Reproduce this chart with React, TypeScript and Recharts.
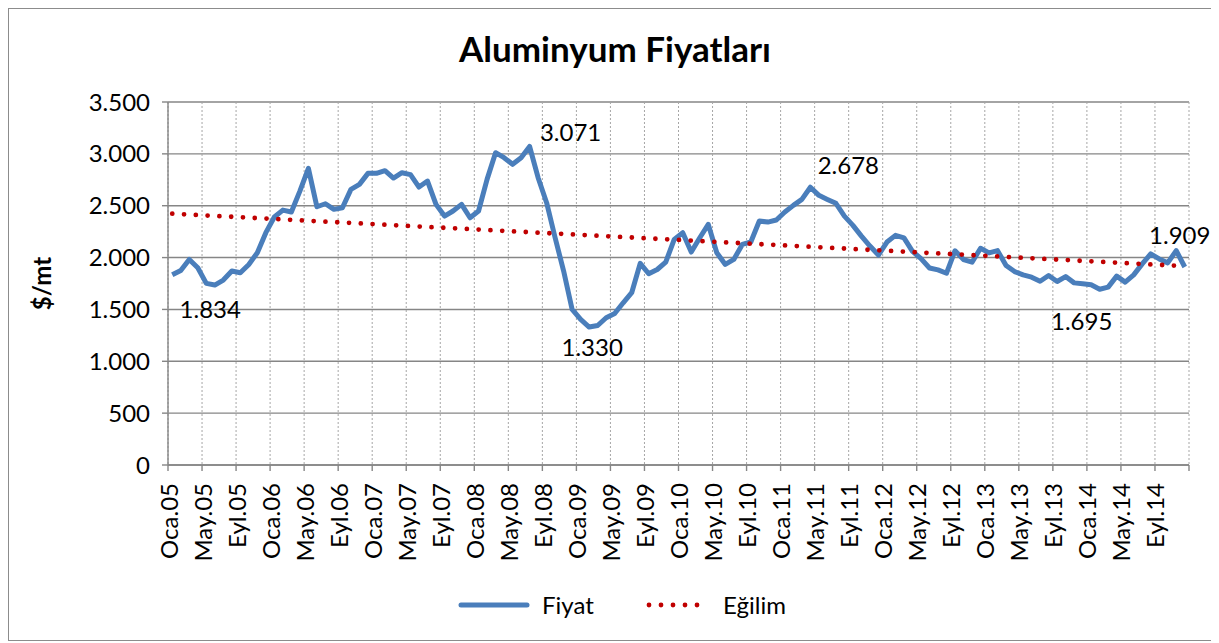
import React from "react";
import { LineChart, Line, XAxis, YAxis, CartesianGrid } from "recharts";

// monthly aluminium price, Oca.05 .. Ara.14 ($/mt)
const prices = [
  1834, 1876, 1982, 1902, 1751, 1735, 1783, 1870, 1854, 1934, 2047, 2240,
  2391, 2458, 2439, 2641, 2860, 2490, 2519, 2465, 2481, 2658, 2706, 2812,
  2812, 2838, 2767, 2818, 2800, 2680, 2738, 2513, 2400, 2449, 2513, 2384,
  2449, 2754, 3011, 2963, 2899, 2963, 3071, 2770, 2529, 2191, 1870, 1500,
  1403, 1330, 1345, 1420, 1461, 1564, 1661, 1944, 1844, 1885, 1957, 2175,
  2240, 2053, 2191, 2320, 2047, 1934, 1982, 2127, 2150, 2352, 2342, 2362,
  2439, 2503, 2561, 2678, 2600, 2561, 2523, 2400, 2310, 2207, 2111, 2024,
  2150, 2214, 2190, 2060, 1990, 1900, 1881, 1849, 2066, 1981, 1955, 2090,
  2045, 2067, 1923, 1865, 1833, 1811, 1772, 1827, 1769, 1817, 1756, 1747,
  1737, 1695, 1715, 1821, 1763, 1833, 1939, 2035, 1987, 1949, 2067, 1909,
];

const tickLabels = [
  "Oca.05", "May.05", "Eyl.05", "Oca.06", "May.06", "Eyl.06",
  "Oca.07", "May.07", "Eyl.07", "Oca.08", "May.08", "Eyl.08",
  "Oca.09", "May.09", "Eyl.09", "Oca.10", "May.10", "Eyl.10",
  "Oca.11", "May.11", "Eyl.11", "Oca.12", "May.12", "Eyl.12",
  "Oca.13", "May.13", "Eyl.13", "Oca.14", "May.14", "Eyl.14",
];

const yTicks = [0, 500, 1000, 1500, 2000, 2500, 3000, 3500];

// linear trend (Eğilim) read at first and last month
const trendStart = 2423;
const trendEnd = 1917;

// months that carry a value label
const labelled = [0, 42, 49, 75, 109, 119];

const FONT = "Lato, 'Open Sans', sans-serif";
const BLUE = "#4A7EBB";
const RED = "#C00000";
const GRID = "#868686";

// label placement relative to its point
const labelOffset: Record<number, [number, number]> = {
  0: [38, 34],
  42: [41, -15],
  49: [3, 19],
  75: [38, -23],
  109: [-18, 31],
  119: [-5, -33],
};

const fmt = (v: number) => String(v).replace(/\B(?=(\d{3})+(?!\d))/g, ".");

const rows = prices.map((p, i) => ({
  x: i + 0.5,
  price: p,
  trend: i === 0 ? trendStart : i === prices.length - 1 ? trendEnd : null,
}));

const xTicks = [...tickLabels.map((_, i) => i * 4), tickLabels.length * 4];

function MonthTick(props: any) {
  const { x, y, payload } = props;
  const label = tickLabels[payload.value / 4] ?? "";
  const ty = y + 12;
  return (
    <text
      x={x}
      y={ty}
      transform={`rotate(-90, ${x}, ${ty})`}
      textAnchor="end"
      dominantBaseline="central"
      fontSize={24}
      fontFamily={FONT}
      fill="#000"
    >
      {label}
    </text>
  );
}

function renderCallout(props: any) {
  const { x, y, index, value } = props;
  if (!labelled.includes(index)) return <g key={`l-${index}`} />;
  const [dx, dy] = labelOffset[index];
  return (
    <text
      key={`l-${index}`}
      x={x + dx}
      y={y + dy}
      textAnchor="middle"
      dominantBaseline="central"
      fontSize={24}
      fontFamily={FONT}
      fill="#000"
    >
      {fmt(value)}
    </text>
  );
}

export default function App() {
  const W = 1208;
  const H = 631;
  return (
    <div
      style={{
        position: "relative",
        width: W,
        height: H,
        border: "1px solid #8c8c8c",
        background: "#fff",
        fontFamily: FONT,
      }}
    >
      <LineChart
        width={W}
        height={H}
        data={rows}
        margin={{ top: 93, right: 28, left: 0, bottom: 0 }}
      >
        <CartesianGrid
          vertical={false}
          stroke={GRID}
          strokeWidth={1.4}
        />
        <CartesianGrid
          horizontal={false}
          stroke="#a6a6a6"
          strokeWidth={1}
          strokeDasharray="2 2"
        />
        <XAxis
          type="number"
          dataKey="x"
          domain={[0, 120]}
          ticks={xTicks}
          interval={0}
          height={175}
          tickSize={6}
          tickMargin={0}
          tickLine={{ stroke: GRID, strokeWidth: 1.4 }}
          axisLine={{ stroke: GRID, strokeWidth: 1.4 }}
          tick={<MonthTick />}
          allowDataOverflow
        />
        <YAxis
          domain={[0, 3500]}
          ticks={yTicks}
          interval={0}
          width={159}
          tickSize={6}
          tickMargin={12}
          tickFormatter={fmt}
          tickLine={{ stroke: GRID, strokeWidth: 1.4 }}
          axisLine={{ stroke: GRID, strokeWidth: 1.4 }}
          tick={{ fill: "#000", fontSize: 24, fontFamily: FONT }}
          label={{
            value: "$/mt",
            angle: -90,
            position: "insideLeft",
            offset: 33,
            style: {
              textAnchor: "middle",
              fontSize: 24,
              fontWeight: 700,
              fontFamily: FONT,
              fill: "#000",
            },
          }}
        />
        <Line
          type="linear"
          dataKey="price"
          stroke={BLUE}
          strokeWidth={5}
          strokeLinejoin="round"
          dot={false}
          activeDot={false}
          isAnimationActive={false}
          label={renderCallout}
        />
        <Line
          type="linear"
          dataKey="trend"
          stroke={RED}
          strokeWidth={4.8}
          strokeDasharray="0 11.8"
          strokeLinecap="round"
          connectNulls
          dot={false}
          activeDot={false}
          isAnimationActive={false}
        />
      </LineChart>
      <svg
        width={W}
        height={H}
        style={{ position: "absolute", left: 0, top: 0, pointerEvents: "none" }}
      >
        <text
          x={606}
          y={53}
          textAnchor="middle"
          fontSize={35}
          fontWeight={700}
          fontFamily={FONT}
          fill="#000"
        >
          Aluminyum Fiyatları
        </text>
        <line x1={452} y1={596} x2={518} y2={596} stroke={BLUE} strokeWidth={5} strokeLinecap="round" />
        <text x={533} y={605} fontSize={24} fontFamily={FONT} fill="#000">
          Fiyat
        </text>
        <line
          x1={640}
          y1={596}
          x2={700}
          y2={596}
          stroke={RED}
          strokeWidth={4.8}
          strokeDasharray="0 12"
          strokeLinecap="round"
        />
        <text x={714} y={605} fontSize={24} fontFamily={FONT} fill="#000">
          Eğilim
        </text>
      </svg>
    </div>
  );
}
